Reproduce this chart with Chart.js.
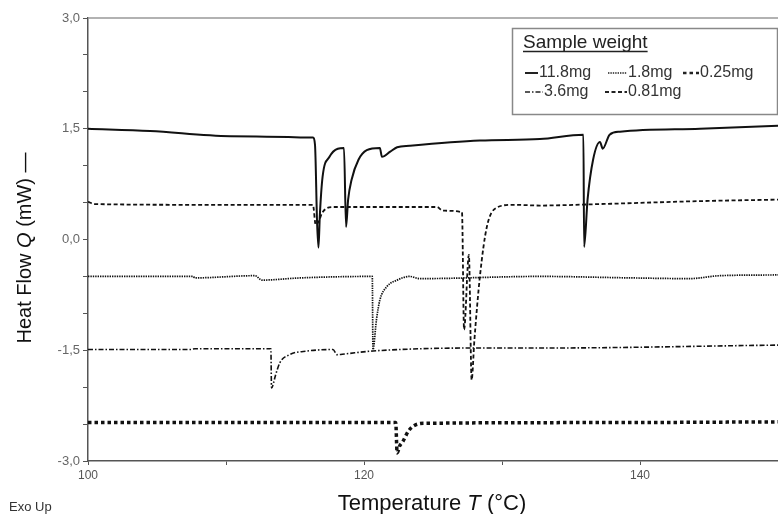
<!DOCTYPE html>
<html>
<head>
<meta charset="utf-8">
<script src="https://cdn.jsdelivr.net/npm/chart.js@4.4.1/dist/chart.umd.min.js"></script>
<style>
    body { margin: 0; background: #fff; }
    #wrap { width: 778px; height: 514px; }
</style>
</head>
<body>
<div id="wrap"><canvas id="dsc" width="778" height="514"></canvas></div>
<script>
// DSC curves (temperature in °C, heat flow in mW)
// names follow the legend samples: 0.81mg is the dashed one, 3.6mg the dash-dot one
const seriesNames = ['11.8mg', '0.81mg', '1.8mg', '3.6mg', '0.25mg'];

const t118 = [100, 104.5, 110.3, 116.3, 116.45, 116.6, 116.7, 116.8, 117.0, 117.5, 118.1, 118.55, 118.7, 118.85, 119.1, 119.6, 120.2, 121.15, 121.3, 121.9, 122.4, 123.3, 128.4, 132.75, 135.9, 135.95, 136.2, 136.6, 137.1, 137.3, 137.8, 138.55, 144.35, 150];
const q118 = [1.50, 1.47, 1.40, 1.38, 1.28, 0.23, -0.11, 0.33, 0.85, 1.12, 1.23, 1.24, 0.17, 0.54, 0.81, 1.08, 1.21, 1.24, 1.12, 1.19, 1.25, 1.27, 1.34, 1.36, 1.42, -0.10, 0.54, 1.08, 1.32, 1.23, 1.42, 1.46, 1.50, 1.54];

const t081 = [100, 100.5, 108.1, 116.3, 116.5, 116.7, 117.0, 117.75, 125.3, 125.7, 127.1, 127.25, 127.6, 127.8, 128.0, 128.4, 128.9, 129.6, 130.8, 132.75, 137.1, 144.35, 150];
const q081 = [0.51, 0.48, 0.47, 0.47, 0.20, 0.24, 0.37, 0.44, 0.44, 0.39, 0.37, -1.22, -0.21, -1.90, -1.36, -0.50, 0.17, 0.43, 0.47, 0.46, 0.48, 0.52, 0.54];

const t18 = [100, 107.6, 107.75, 112.1, 112.6, 115.4, 120.6, 120.65, 120.9, 121.15, 121.65, 122.4, 123.3, 124.05, 132.75, 139.3, 143.6, 145.8, 150];
const q18 = [-0.50, -0.50, -0.52, -0.49, -0.55, -0.52, -0.50, -1.49, -1.09, -0.82, -0.64, -0.55, -0.50, -0.53, -0.50, -0.52, -0.53, -0.49, -0.48];

const t36 = [100, 107.4, 107.75, 113.25, 113.3, 113.6, 113.9, 114.6, 115.9, 117.75, 118.05, 118.6, 120.65, 127.9, 132.75, 150];
const q36 = [-1.49, -1.49, -1.48, -1.48, -2.01, -1.83, -1.67, -1.56, -1.51, -1.49, -1.56, -1.55, -1.51, -1.47, -1.47, -1.43];

const t025 = [100, 122.3, 122.4, 122.6, 122.8, 123.2, 123.55, 124.3, 137.1, 150];
const q025 = [-2.48, -2.48, -2.89, -2.79, -2.74, -2.60, -2.53, -2.49, -2.48, -2.47];

const yLabelEvery = 1.5;   // labelled y ticks: 3,0 / 1,5 / 0,0 ...
const xLabelTicks = [100, 120, 140];

function toPoints(ts, qs) {
    let pts = [];
    for (let i = 0; i < ts.length; i++) pts.push({ x: ts[i], y: qs[i] });
    return pts;
}

// line looks, same order as seriesNames
const looks = [
    { width: 2.0, dash: [] },
    { width: 1.8, dash: [4, 2.5] },
    { width: 1.7, dash: [1.4, 1] },
    { width: 1.6, dash: [5, 2, 1.5, 2] },
    { width: 3.5, dash: [3.5, 3] }
];

const allData = [toPoints(t118, q118), toPoints(t081, q081), toPoints(t18, q18), toPoints(t36, q36), toPoints(t025, q025)];

let datasets = [];
for (let i = 0; i < seriesNames.length; i++) {
    datasets.push({
        label: seriesNames[i],
        data: allData[i],
        showLine: true,
        pointRadius: 0,
        borderColor: '#111',
        borderWidth: looks[i].width,
        borderDash: looks[i].dash,
        cubicInterpolationMode: 'monotone'
    });
}

const FONT = '"Liberation Sans", Arial, sans-serif';

function drawMixed(ctx, parts, x, y, size) {
    // parts: [text, italic]
    let total = 0;
    parts.forEach(p => {
        ctx.font = (p[1] ? 'italic ' : '') + size + 'px ' + FONT;
        total += ctx.measureText(p[0]).width;
    });
    let cx = x - total / 2;
    parts.forEach(p => {
        ctx.font = (p[1] ? 'italic ' : '') + size + 'px ' + FONT;
        ctx.fillText(p[0], cx, y);
        cx += ctx.measureText(p[0]).width;
    });
}

const decorations = {
    id: 'decorations',
    afterDraw(chart) {
        const ctx = chart.ctx;
        const area = chart.chartArea;
        ctx.save();

        // top frame line
        ctx.strokeStyle = '#999';
        ctx.lineWidth = 1.5;
        ctx.beginPath();
        ctx.moveTo(area.left, area.top);
        ctx.lineTo(area.right, area.top);
        ctx.stroke();

        // axis titles
        ctx.fillStyle = '#111';
        ctx.textAlign = 'left';
        ctx.textBaseline = 'middle';
        drawMixed(ctx, [['Temperature ', false], ['T', true], [' (°C)', false]], 432, 504, 22);
        ctx.save();
        ctx.translate(25, 248);
        ctx.rotate(-Math.PI / 2);
        drawMixed(ctx, [['Heat Flow ', false], ['Q', true], [' (mW) —', false]], 0, 0, 20);
        ctx.restore();

        ctx.font = '13px ' + FONT;
        ctx.fillStyle = '#333';
        ctx.fillText('Exo Up', 9, 507);

        // legend box
        ctx.strokeStyle = '#888';
        ctx.lineWidth = 1.5;
        ctx.strokeRect(512.5, 28.5, 265, 86);
        ctx.fillStyle = '#222';
        ctx.font = '19px ' + FONT;
        ctx.textBaseline = 'alphabetic';
        ctx.fillText('Sample weight', 523, 48);
        const tw = ctx.measureText('Sample weight').width;
        ctx.lineWidth = 1.3;
        ctx.strokeStyle = '#222';
        ctx.beginPath();
        ctx.moveTo(523, 51.5);
        ctx.lineTo(523 + tw, 51.5);
        ctx.stroke();

        // entries: [series index, x, y, sample length]
        const entries = [[0, 525, 73, 13], [2, 608, 73, 19], [4, 683, 73, 16], [3, 525, 92, 18], [1, 605, 92, 22]];
        ctx.font = '16px ' + FONT;
        ctx.textBaseline = 'middle';
        entries.forEach(e => {
            const lk = looks[e[0]];
            ctx.strokeStyle = '#222';
            ctx.lineWidth = Math.min(lk.width, 2.6);
            ctx.setLineDash(lk.dash);
            ctx.beginPath();
            ctx.moveTo(e[1], e[2]);
            ctx.lineTo(e[1] + e[3], e[2]);
            ctx.stroke();
            ctx.setLineDash([]);
            ctx.fillStyle = '#333';
            ctx.fillText(seriesNames[e[0]], e[1] + e[3] + 1, e[2]);
        });
        ctx.restore();
    }
};

new Chart(document.getElementById('dsc'), {
    type: 'scatter',
    data: { datasets: datasets },
    options: {
        responsive: false,
        animation: false,
        layout: { padding: { top: 18, right: 0, left: 0, bottom: 0 } },
        plugins: {
            legend: { display: false },
            tooltip: { enabled: false }
        },
        scales: {
            x: {
                type: 'linear',
                min: 100,
                max: 150,
                afterFit: function(scale) {
                    scale.height = 53;
                    scale.paddingRight = 0;
                },
                border: { display: true, color: '#555', width: 1.5 },
                grid: { drawOnChartArea: false, drawTicks: true, tickLength: 4, color: '#555' },
                ticks: {
                    stepSize: 10,
                    padding: 3,
                    color: '#555',
                    font: { size: 12, family: FONT },
                    maxRotation: 0,
                    autoSkip: false,
                    callback: function(v) { return xLabelTicks.includes(v) ? String(v) : ''; }
                }
            },
            y: {
                type: 'linear',
                min: -3,
                max: 3,
                afterFit: function(scale) { scale.width = 88; },
                border: { display: true, color: '#555', width: 1.5 },
                grid: { drawOnChartArea: false, drawTicks: true, tickLength: 5, color: '#555' },
                ticks: {
                    stepSize: 0.5,
                    padding: 3,
                    color: '#666',
                    font: { size: 13, family: FONT },
                    autoSkip: false,
                    callback: function(v) {
                        const r = v / yLabelEvery;
                        if (Math.abs(r - Math.round(r)) > 1e-6) return '';
                        return v.toFixed(1).replace('.', ',');
                    }
                }
            }
        }
    },
    plugins: [decorations]
});
</script>
</body>
</html>
